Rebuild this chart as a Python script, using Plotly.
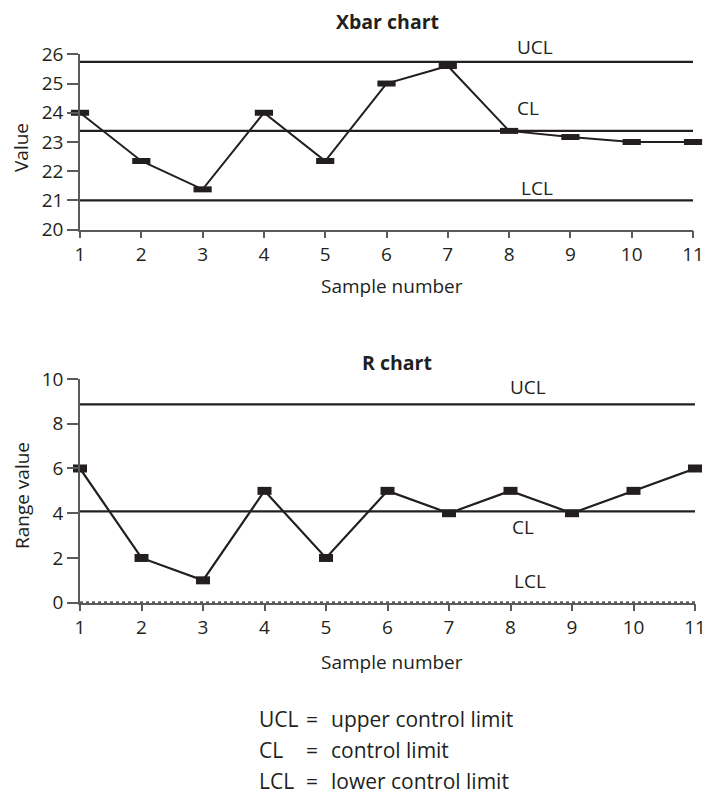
import plotly.graph_objects as go

# the page's body margin is removed (see post_script) so the figure fills the window
PAGE_OFF = 0
W, H = 704, 797

# ---------------- data ----------------
samples = [1, 2, 3, 4, 5, 6, 7, 8, 9, 10, 11]
xbar_values = [24.0, 22.35, 21.38, 24.0, 22.35, 25.0, 25.6, 23.38, 23.17, 23.0, 23.0]
xbar_ucl = 25.74
xbar_cl = 23.38
xbar_lcl = 21.0

range_values = [6, 2, 1, 5, 2, 5, 4, 5, 4, 5, 6]
r_ucl = 8.87
r_cl = 4.08
r_lcl = 0.0

xbar_yticks = [20, 21, 22, 23, 24, 25, 26]
r_yticks = [0, 2, 4, 6, 8, 10]

legend_abbr = ["UCL", "CL", "LCL"]
legend_desc = ["upper control limit", "control limit", "lower control limit"]

# ---------------- style ----------------
FONT = "Open Sans"
INK = "#231f20"
AXIS = "#5a5a5a"


def px(x):
    return (x - PAGE_OFF) / W


def py(y):
    return 1 - (y - PAGE_OFF) / H


fig = go.Figure()


def hline(val, xa, ya, dash="solid", width=2.2):
    fig.add_trace(go.Scatter(x=[samples[0], samples[-1]], y=[val, val], mode="lines",
                             line=dict(color=INK, width=width, dash=dash),
                             xaxis=xa, yaxis=ya, cliponaxis=False, hoverinfo="skip"))


# Xbar chart
hline(xbar_ucl, "x", "y")
hline(xbar_cl, "x", "y")
hline(xbar_lcl, "x", "y")
fig.add_trace(go.Scatter(x=samples, y=xbar_values, mode="lines+markers",
                         line=dict(color=INK, width=2),
                         marker=dict(symbol="line-ew", size=13, line=dict(color=INK, width=6)),
                         xaxis="x", yaxis="y", cliponaxis=False))

# R chart
hline(r_ucl, "x2", "y2")
hline(r_cl, "x2", "y2")
hline(r_lcl, "x2", "y2", dash="3px,3px", width=2.2)
fig.add_trace(go.Scatter(x=samples, y=range_values, mode="lines+markers",
                         line=dict(color=INK, width=2.2),
                         marker=dict(symbol="line-ew", size=10, line=dict(color=INK, width=8)),
                         xaxis="x2", yaxis="y2", cliponaxis=False))

axis_common = dict(showgrid=False, zeroline=False, showline=True, linecolor=AXIS, linewidth=1.5,
                   ticks="outside", tickcolor=AXIS, tickwidth=1.5, automargin=False,
                   ticklabeloverflow="allow",
                   tickfont=dict(family=FONT, size=19, color=INK))

fig.update_layout(
    width=W, height=H, autosize=False,
    margin=dict(l=0, r=0, t=0, b=0, pad=0),
    paper_bgcolor="white", plot_bgcolor="white",
    showlegend=False,
    font=dict(family=FONT, color=INK),
    xaxis=dict(domain=[px(80), px(693)], range=[1, 11], tickvals=samples, ticklen=7,
               anchor="y", **axis_common),
    yaxis=dict(domain=[py(229.7), py(54.3)], range=[20, 26], tickvals=xbar_yticks, ticklen=11,
               anchor="x", **axis_common),
    xaxis2=dict(domain=[px(80), px(695)], range=[1, 11], tickvals=samples, ticklen=7,
                anchor="y2", **axis_common),
    yaxis2=dict(domain=[py(602.7), py(379)], range=[0, 10], tickvals=r_yticks, ticklen=11,
                anchor="x2", **axis_common),
)

anns = []


def text(x, y, s, size=19, bold=False, xanchor="center", angle=0):
    anns.append(dict(x=px(x), y=py(y), xref="paper", yref="paper", text=("<b>%s</b>" % s) if bold else s,
                     showarrow=False, xanchor=xanchor, yanchor="middle", textangle=angle,
                     font=dict(family=FONT, size=size, color=INK)))


text(387, 21, "Xbar chart", size=19.5, bold=True)
text(397, 363, "R chart", size=19.5, bold=True)
text(392, 286, "Sample number", size=19)
text(392, 662, "Sample number", size=19)
text(21, 148, "Value", size=19, angle=-90)
text(22, 496, "Range value", size=19, angle=-90)

text(535, 47, "UCL")
text(528, 108, "CL")
text(537, 188, "LCL")
text(528, 387, "UCL")
text(523, 527, "CL")
text(530, 581, "LCL")

rows = [719, 750, 781]
for abbr, desc, yy in zip(legend_abbr, legend_desc, rows):
    text(257, yy, abbr, xanchor="left", size=21)
    text(312, yy, "=", size=21)
    text(329, yy, desc, xanchor="left", size=21)

fig.update_layout(annotations=anns)

fig.write_html(
    "out.html",
    config={"displayModeBar": False},
    post_script="document.body.style.margin='0';document.body.style.overflow='hidden';",
)
